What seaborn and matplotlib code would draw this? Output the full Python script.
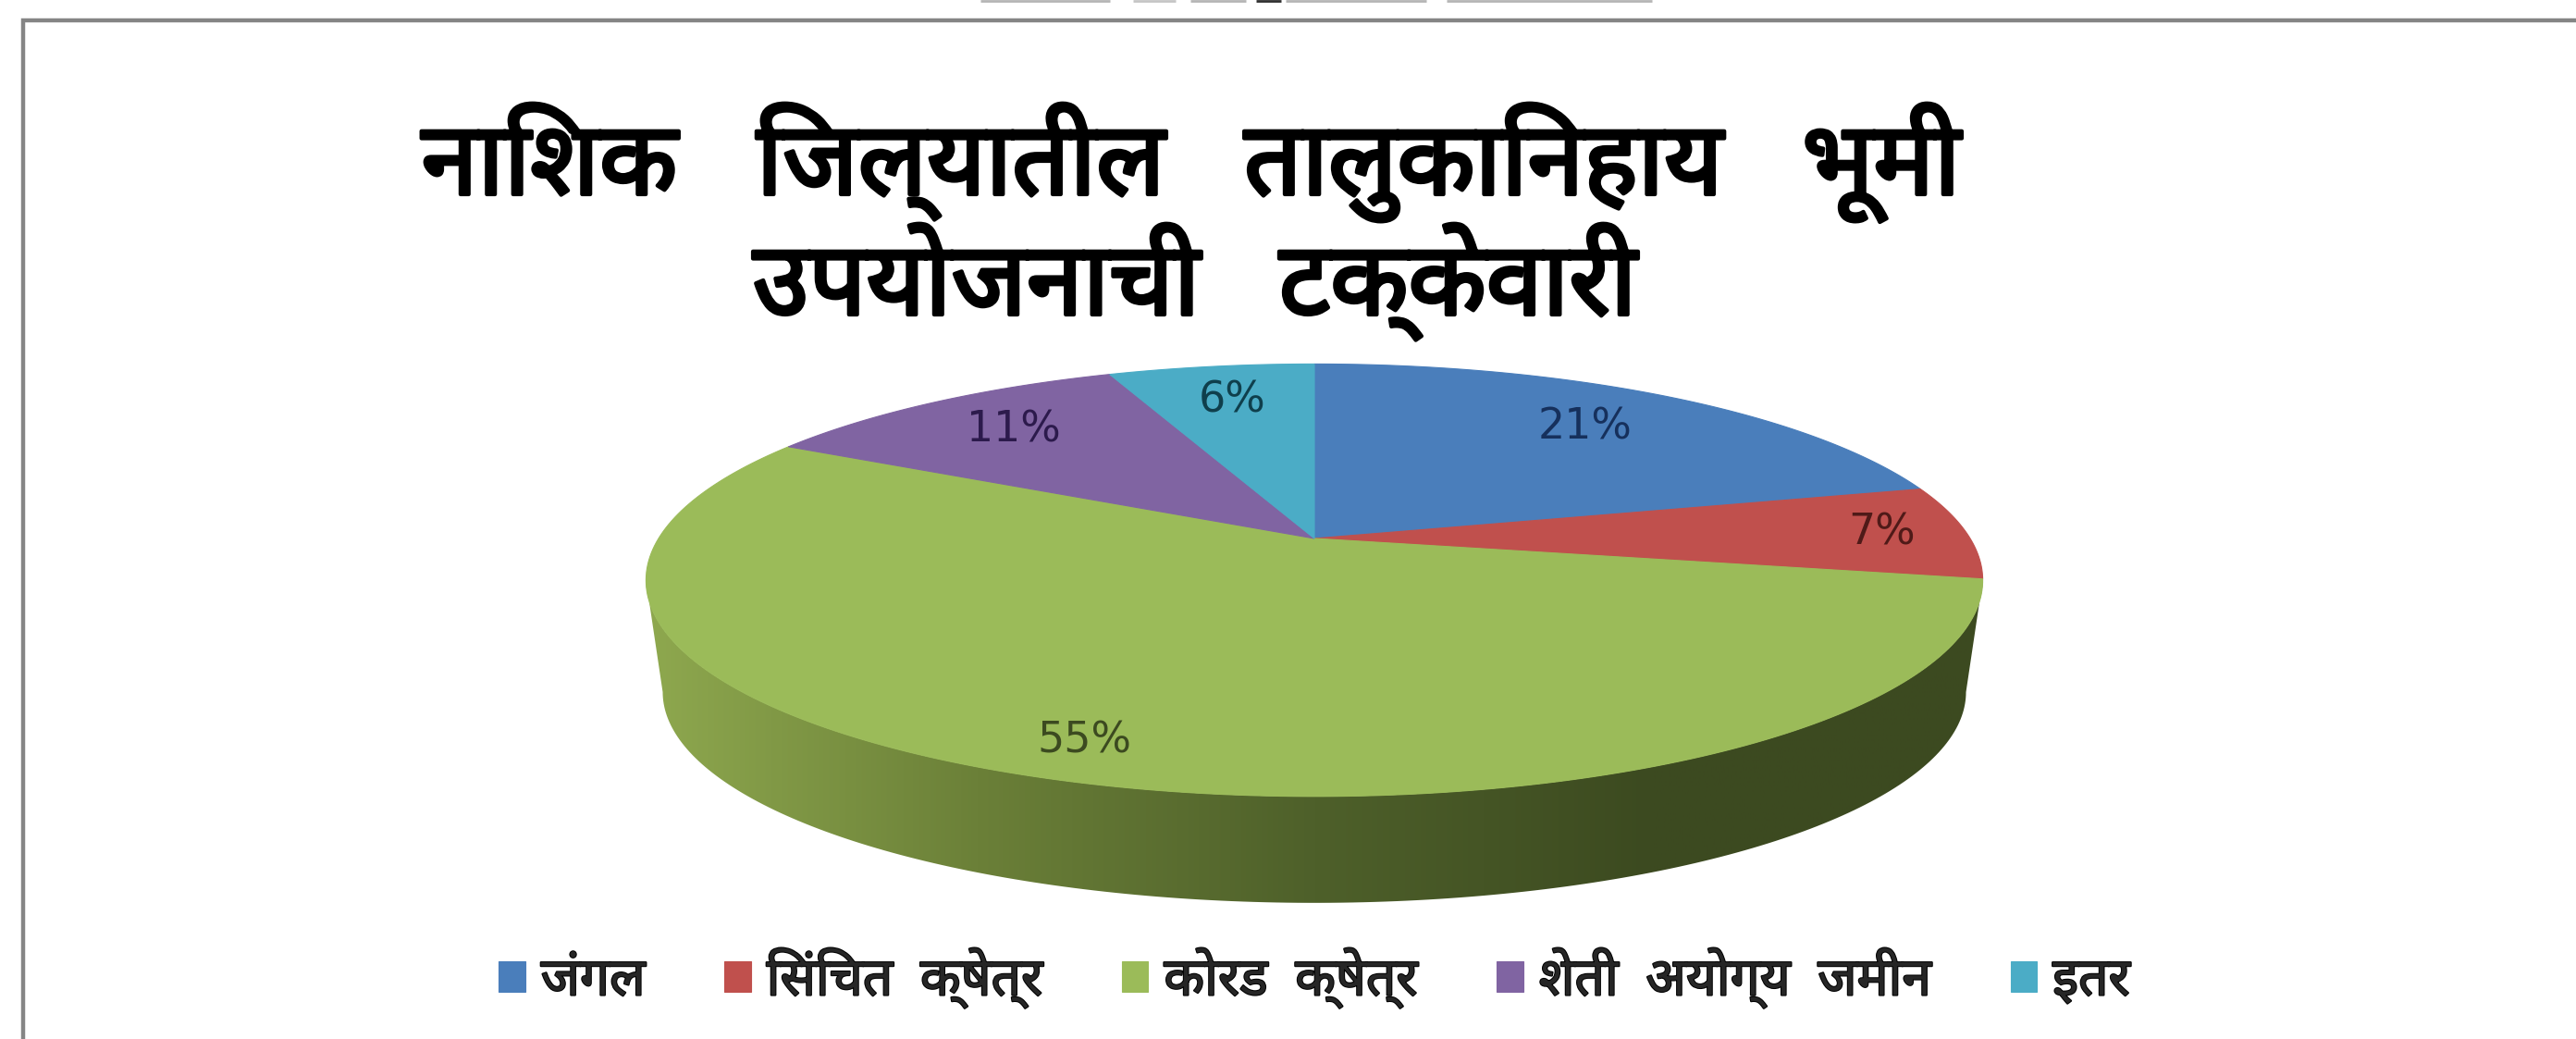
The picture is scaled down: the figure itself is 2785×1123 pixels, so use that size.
import numpy as np
import matplotlib.pyplot as plt
import matplotlib.patheffects as pe
from matplotlib.patches import Polygon
import seaborn as sns

sns.set_theme(style="white")
plt.rcParams['font.family'] = ['Noto Sans', 'DejaVu Sans']

# --- DATA ---
categories = ["जंगल", "सिंचित क्षेत्र", "कोरड क्षेत्र", "शेती अयोग्य जमीन", "इतर"]
shares = [21, 7, 55, 11, 6]
title_lines = ["नाशिक जिल्यातील तालुकानिहाय भूमी", "उपयोजनाची टक्केवारी"]
slice_colors = ["#4a7ebb", "#c0504d", "#9bbb59", "#8064a2", "#4bacc6"]
label_colors = ["#16305c", "#4f1a18", "#3c4a20", "#2c1a4c", "#0f3f4c"]
label_radius = [0.75, 0.87, 0.87, 0.77, 0.77]

W, H = 2785, 1123
CX, CY = 1421, 582      # pie apex
RX, RY = 709, 225       # scale of the tilted disc
TILT = 0.193            # perspective, the back of the disc is further away
DEPTH = 122
WIDEST = np.degrees(np.arcsin(TILT))    # where the disc outline is widest on screen


def project(x, y, scale=1.0, dy=0.0):
    w = 1 + TILT * y
    return CX + RX * scale * x / w, CY + dy - RY * scale * y / w


def arc(a0, a1, scale=1.0, dy=0.0, n=200):
    t = np.radians(np.linspace(a0, a1, n))
    return project(np.cos(t), np.sin(t), scale, dy)


def visual_order(text, gap=2):
    # matplotlib does no text shaping, so the i-matra has to come before its consonant to be seen there
    chars = list(text)
    for i in range(1, len(chars)):
        if chars[i] == "ि":
            chars[i - 1], chars[i] = chars[i], chars[i - 1]
    # the source has wide word gaps
    return "".join(chars).replace(" ", " " * gap)


fig = plt.figure(figsize=(W / 100, H / 100), dpi=100)
ax = fig.add_axes([0, 0, 1, 1])
ax.set_xlim(0, W)
ax.set_ylim(H, 0)
ax.axis("off")

# outer frame, runs off the right and bottom
ax.plot([25, 25, W], [H, 22, 22], color="#858585", lw=3.2, solid_joinstyle="miter")

# the line above the frame is cut off in the source and cannot be read, only its lower edge shows
for x0, x1, shade_col in [(1060, 1200, "#b5b5b5"), (1225, 1271, "#c5c5c5"), (1287, 1347, "#b5b5b5"),
                          (1358, 1385, "#303030"), (1390, 1542, "#b5b5b5"), (1564, 1786, "#b5b5b5")]:
    ax.plot([x0, x1], [1, 1], color=shade_col, lw=2, solid_capstyle="butt")

# side wall with the left to right shading
tx, ty = arc(180 + WIDEST, 360 - WIDEST)
bx, by = arc(360 - WIDEST, 180 + WIDEST, scale=0.975, dy=DEPTH)
side = Polygon(np.column_stack([np.r_[tx, bx], np.r_[ty, by]]), closed=True, fc="none", ec="none")
ax.add_patch(side)
shade = sns.blend_palette(["#8fa94f", "#6b8038", "#4e602a", "#3c4a20", "#3d4a21"], as_cmap=True)
img = ax.imshow(np.linspace(0, 1, 512)[None, :], cmap=shade, aspect="auto", zorder=2,
                extent=[CX - RX * 1.03, CX + RX * 1.03, CY + 400, CY - 100])
img.set_clip_path(side)
ax.set_xlim(0, W)
ax.set_ylim(H, 0)

# top face, clockwise from twelve o'clock
palette = sns.color_palette(slice_colors)
edges = 90 - np.cumsum([0] + shares) * 3.6
for i, color in enumerate(palette):
    ex, ey = arc(edges[i], edges[i + 1])
    ax.fill(np.r_[CX, ex], np.r_[CY, ey], color=color, lw=0.8, zorder=3, label=visual_order(categories[i]))

    mid = np.radians((edges[i] + edges[i + 1]) / 2)
    lx, ly = project(label_radius[i] * np.cos(mid), label_radius[i] * np.sin(mid))
    ax.text(lx, ly, f"{shares[i]}%", color=label_colors[i], fontsize=33, ha="center", va="center",
            family="DejaVu Sans", zorder=4)

# title, the font has no bold Devanagari so it gets a stroke
bold = [pe.withStroke(linewidth=3, foreground="black")]
ax.text(1288, 210, visual_order(title_lines[0], gap=3), fontsize=79, color="black",
        ha="center", va="baseline", path_effects=bold)
ax.text(1292, 340, visual_order(title_lines[1], gap=3), fontsize=79, color="black",
        ha="center", va="baseline", path_effects=bold)

leg = ax.legend(loc="center", bbox_to_anchor=(1421 / W, 1 - 1057 / H), ncol=5, frameon=False,
                handlelength=0.5, handleheight=0.5, handletextpad=0.3, columnspacing=1.5,
                prop={"family": ["Noto Sans", "DejaVu Sans"], "size": 41})
for t in leg.get_texts():
    t.set_path_effects([pe.withStroke(linewidth=1.5, foreground="black")])

plt.savefig("out.png", dpi=100)
plt.close()
